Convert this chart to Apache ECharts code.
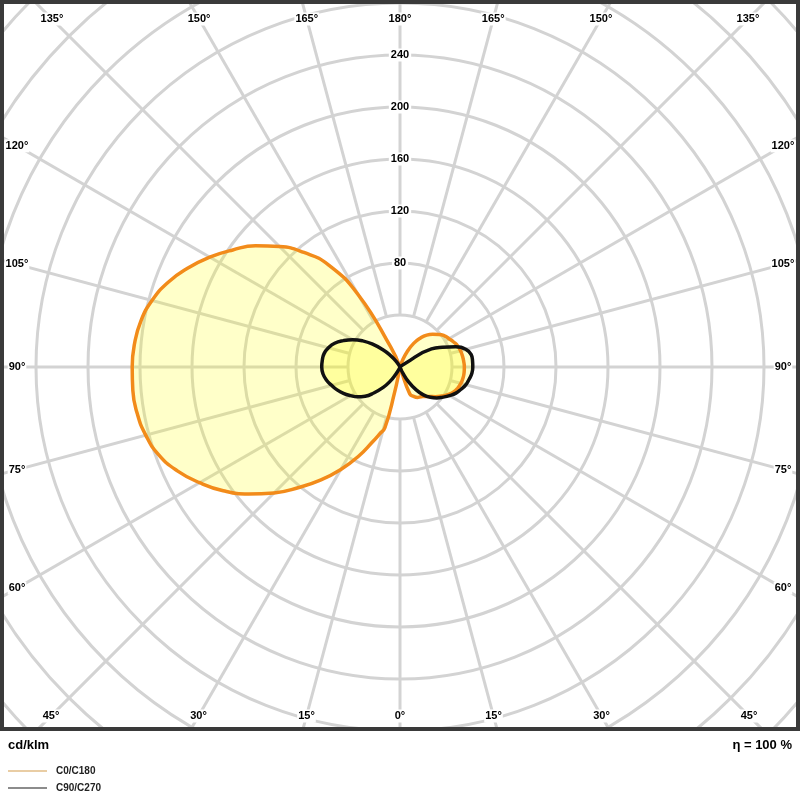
<!DOCTYPE html>
<html>
<head>
<meta charset="utf-8">
<script src="https://cdn.jsdelivr.net/npm/echarts@6/dist/echarts.min.js"></script>
<style>html,body{margin:0;padding:0;background:#fff}#c{width:800px;height:800px}</style>
</head>
<body>
<div id="c"></div>
<script>
// ---- data (gamma angle in degrees, luminous intensity in cd/klm) ----
const C180_GAMMA  = [0, 5, 10, 12, 14, 17, 20, 25, 30, 35, 40, 45, 50, 55, 60, 65, 70, 75, 80, 85, 90, 95, 100, 105, 110, 115, 120, 125, 130, 135, 140, 145, 150, 155, 160, 170, 180];
const C180_VALUES = [0, 0, 2, 20, 48, 54, 61, 76, 91, 106, 121, 137, 152, 166, 178, 189, 197.5, 202.5, 205.3, 206.3, 206, 205, 202.5, 197.5, 190, 180, 169, 157, 145, 131, 115, 96, 64, 17, 0, 0, 0];

const C0_GAMMA  = [0, 10, 15, 20, 25, 30, 35, 40, 45, 50, 55, 60, 65, 70, 75, 80, 85, 90, 95, 100, 105, 110, 115, 120, 125, 130, 135, 140, 145, 150, 155, 160, 165, 180];
const C0_VALUES = [0, 0, 1, 22, 25, 27, 28, 29.5, 32, 35.5, 39, 42.5, 45.5, 47.3, 48.5, 49.2, 49.5, 49.5, 49.2, 48.8, 48.2, 47.3, 45.5, 43.5, 41.8, 39, 35.5, 32, 27, 21, 13, 5, 0, 0];

const C270_GAMMA  = [0, 20, 25, 30, 35, 40, 45, 50, 55, 60, 65, 70, 75, 80, 85, 90, 95, 100, 105, 110, 115, 120, 125, 130, 135, 140, 145, 150, 155, 180];
const C270_VALUES = [0, 0, 2, 6, 14, 21, 28, 35, 40, 44, 48, 51.5, 54.5, 57.5, 59.5, 60.2, 60, 59.3, 57, 53.5, 48, 42, 35, 27, 19, 12, 6, 2, 0, 0];

const C90_GAMMA  = [0, 15, 20, 25, 30, 35, 40, 45, 50, 55, 60, 65, 70, 75, 80, 85, 90, 95, 100, 105, 110, 115, 120, 125, 130, 180];
const C90_VALUES = [0, 0, 1, 5, 13, 21, 28, 33, 37, 40.4, 44, 47.5, 50, 52.5, 54, 55.5, 56, 56, 55.5, 52.5, 45.5, 36, 28, 4, 0, 0];

const RADIAL_TICKS = [80, 120, 160, 200, 240];
const ANGLE_TICKS = [0, 15, 30, 45, 60, 75, 90, 105, 120, 135, 150, 165, 180];
const SPOKE_STEP = 15;
const RING_STEP = 40;
const RADIUS_MAX = 420;
const UNIT = 'cd/klm';
const EFFICIENCY = 'η = 100 %';
const LEGEND_NAMES = ['C0/C180', 'C90/C270'];

// ---- layout ----
const CX = 400, CY = 367, PX_PER_UNIT = 1.3;
const FRAME = { left: 17, right: 783, top: 19, bottom: 716 };
const GRID_COLOR = '#d3d3d3';
const FONT = '"Liberation Sans", Arial, sans-serif';

// gamma on the left half -> axis angle 180+g, right half -> 180-g (0 at top, clockwise)
const toLeft = (g, v) => g.map((a, i) => [v[i], 180 + a]);
const toRight = (g, v) => g.map((a, i) => [v[i], 180 - a]);

const chart = echarts.init(document.getElementById('c'), null, { renderer: 'canvas' });

// spokes from the first ring outwards
const spokeSeries = [];
for (let a = 0; a < 360; a += SPOKE_STEP) {
  spokeSeries.push({
    type: 'line', coordinateSystem: 'polar', silent: true, symbol: 'none',
    data: [[RING_STEP, a], [RADIUS_MAX, a]],
    lineStyle: { color: GRID_COLOR, width: 3 }, z: 1
  });
}

const fill = 'rgba(255,255,0,0.3)';
const curve = (name, data, color) => ({
  type: 'line', name, coordinateSystem: 'polar', data, symbol: 'none', smooth: 0.5,
  silent: true,
  lineStyle: { color, width: 3.5, join: 'round', cap: 'round' },
  itemStyle: { color },
  areaStyle: { color: fill, origin: 'start' },
  z: 3
});

// angle labels placed where each spoke meets the frame
const graphics = [];
graphics.push({ type: 'rect', zlevel: 1, shape: { x: 0, y: 731, width: 800, height: 69 }, style: { fill: '#fff' } });
graphics.push({ type: 'rect', zlevel: 1, shape: { x: 2, y: 2, width: 796, height: 727 }, style: { fill: 'none', stroke: '#3a3a3a', lineWidth: 4 } });
ANGLE_TICKS.forEach(g => {
  const sides = (g === 0 || g === 180) ? [1] : [-1, 1];
  sides.forEach(s => {
    const rad = g * Math.PI / 180;
    const dx = s * Math.sin(rad), dy = Math.cos(rad);
    let t = Infinity;
    if (Math.abs(dx) > 1e-9) t = Math.min(t, (dx < 0 ? CX - FRAME.left : FRAME.right - CX) / Math.abs(dx));
    if (Math.abs(dy) > 1e-9) t = Math.min(t, (dy > 0 ? FRAME.bottom - CY : CY - FRAME.top) / Math.abs(dy));
    graphics.push({
      type: 'text', zlevel: 1, x: CX + dx * t, y: CY + dy * t,
      style: { text: g + '°', font: 'bold 11px ' + FONT, fill: '#000', align: 'center', verticalAlign: 'middle', backgroundColor: '#fff', padding: [1, 1] }
    });
  });
});
graphics.push({ type: 'text', zlevel: 1, x: 8, y: 745, style: { text: UNIT, font: 'bold 13px ' + FONT, fill: '#000', align: 'left', verticalAlign: 'middle' } });
graphics.push({ type: 'text', zlevel: 1, x: 792, y: 745, style: { text: EFFICIENCY, font: 'bold 13px ' + FONT, fill: '#000', align: 'right', verticalAlign: 'middle' } });

chart.setOption({
  animation: false,
  backgroundColor: '#fff',
  polar: { center: [CX, CY], radius: RADIUS_MAX * PX_PER_UNIT },
  angleAxis: {
    type: 'value', min: 0, max: 360, interval: SPOKE_STEP, startAngle: 90, clockwise: true,
    axisLine: { show: false }, axisTick: { show: false }, axisLabel: { show: false }, splitLine: { show: false }
  },
  radiusAxis: {
    type: 'value', min: 0, max: RADIUS_MAX, interval: RING_STEP,
    axisLine: { show: false }, axisTick: { show: false }, axisLabel: { show: false },
    splitLine: { show: true, lineStyle: { color: GRID_COLOR, width: 3 } }
  },
  legend: {
    zlevel: 2, orient: 'vertical', left: 8, top: 765, padding: 0, itemWidth: 39, itemHeight: 2, itemGap: 5,
    selectedMode: false, icon: 'rect',
    textStyle: { fontSize: 10, lineHeight: 12, fontWeight: 'bold', color: '#222', fontFamily: FONT, padding: [0, 0, 0, 4] },
    data: [
      { name: LEGEND_NAMES[0], icon: 'rect', itemStyle: { color: '#e9cda4' } },
      { name: LEGEND_NAMES[1], icon: 'rect', itemStyle: { color: '#8c8c8c' } }
    ]
  },
  graphic: { elements: graphics },
  series: [
    ...spokeSeries,
    curve(LEGEND_NAMES[0], toLeft(C180_GAMMA, C180_VALUES), '#f28b1a'),
    curve(LEGEND_NAMES[0], toRight(C0_GAMMA, C0_VALUES), '#f28b1a'),
    curve(LEGEND_NAMES[1], toLeft(C270_GAMMA, C270_VALUES), '#111111'),
    curve(LEGEND_NAMES[1], toRight(C90_GAMMA, C90_VALUES), '#111111'),
    {
      type: 'scatter', coordinateSystem: 'polar', silent: true, symbolSize: 1,
      itemStyle: { color: '#ffffff', opacity: 1 },
      emphasis: { disabled: true },
      data: RADIAL_TICKS.map(v => [v, 0]),
      label: {
        show: true, position: 'inside', formatter: p => String(p.value[0]),
        fontSize: 11, fontWeight: 'bold', color: '#000000', fontFamily: FONT,
        textBorderWidth: 0, textBorderColor: 'transparent', opacity: 1,
        backgroundColor: '#ffffff', padding: [1, 2]
      },
      z: 5
    }
  ]
});
</script>
</body>
</html>
